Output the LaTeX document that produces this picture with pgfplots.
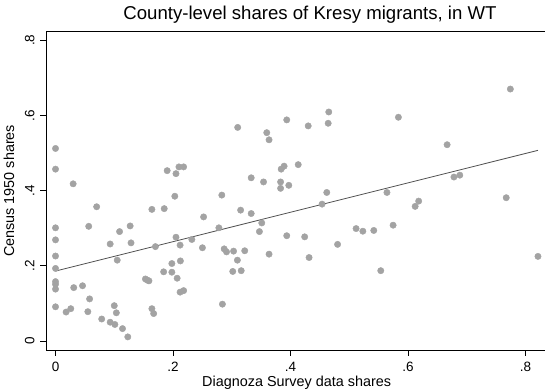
\documentclass[border=0pt]{standalone}
\usepackage{fontspec}
\setmainfont{Liberation Sans}
\usepackage{pgfplots}
\pgfplotsset{compat=1.18}

\definecolor{markgray}{RGB}{163,163,163}
\definecolor{fitgray}{RGB}{80,80,80}

\begin{document}
\begin{tikzpicture}
\begin{axis}[
  at={(0,0)}, anchor=south west,
  scale only axis,
  width=499pt, height=318.8pt,
  xmin=-0.0162, xmax=0.833,
  ymin=-0.0247, ymax=0.823,
  axis x line*=bottom, axis y line*=left,
  axis line style={line width=1pt, -},
  tick align=outside,
  major tick length=5.5pt,
  tick style={black, line width=1pt},
  xtick={0,0.2,0.4,0.6,0.8},
  xticklabels={0,.2,.4,.6,.8},
  ytick={0,0.2,0.4,0.6,0.8},
  yticklabels={0,.2,.4,.6,.8},
  xticklabel style={font=\fontsize{13.5}{16}\selectfont, anchor=base},
  yticklabel style={font=\fontsize{13.5}{16}\selectfont, rotate=90, anchor=base},
  xticklabel shift=15.2pt,
  yticklabel shift=6.2pt,
  title={County-level shares of Kresy migrants, in WT},
  title style={font=\fontsize{18.6}{22}\selectfont,
    at={(axis description cs:0.529,1)}, anchor=base, yshift=6.5pt},
  xlabel={Diagnoza Survey data shares},
  ylabel={Census 1950 shares},
  xlabel style={font=\fontsize{14.4}{17}\selectfont,
    at={(axis description cs:0.5024,0)}, anchor=base, yshift=-35.7pt},
  ylabel style={font=\fontsize{14.4}{17}\selectfont,
    at={(axis description cs:-0.0641,0.5)}, anchor=base, rotate=0},
  clip=false,
]
% county observations
\addplot[only marks, mark=*, mark size=3.2pt,
  mark options={fill=markgray, draw=markgray}] table {
x y
0 0.512
0 0.457
0 0.301
0 0.269
0 0.226
0 0.193
0 0.158
0 0.151
0 0.138
0 0.091
0.030 0.418
0.070 0.357
0.0565 0.305
0.109 0.291
0.127 0.306
0.164 0.350
0.185 0.352
0.190 0.453
0.205 0.445
0.210 0.463
0.218 0.463
0.203 0.385
0.252 0.330
0.093 0.258
0.1285 0.261
0.105 0.215
0.170 0.251
0.205 0.276
0.212 0.255
0.232 0.270
0.250 0.248
0.198 0.206
0.2125 0.213
0.184 0.184
0.198 0.183
0.207 0.167
0.153 0.165
0.156 0.162
0.159 0.160
0.031 0.142
0.046 0.147
0.058 0.112
0.212 0.130
0.218 0.134
0.018 0.077
0.026 0.086
0.055 0.078
0.100 0.094
0.1035 0.075
0.164 0.086
0.167 0.073
0.0786 0.0585
0.093 0.050
0.101 0.044
0.114 0.033
0.123 0.011
0.465 0.609
0.3935 0.588
0.310 0.568
0.430 0.572
0.464 0.579
0.3595 0.554
0.3634 0.535
0.413 0.469
0.384 0.457
0.389 0.465
0.333 0.434
0.354 0.423
0.383 0.423
0.397 0.414
0.383 0.406
0.4616 0.395
0.283 0.388
0.4536 0.364
0.315 0.348
0.333 0.339
0.351 0.314
0.278 0.301
0.5115 0.299
0.523 0.292
0.5416 0.294
0.347 0.291
0.287 0.245
0.291 0.237
0.303 0.239
0.322 0.240
0.3095 0.215
0.3016 0.185
0.316 0.187
0.3634 0.231
0.3935 0.280
0.424 0.277
0.4315 0.222
0.480 0.257
0.284 0.098
0.774 0.670
0.5835 0.595
0.6664 0.522
0.678 0.436
0.688 0.441
0.564 0.395
0.612 0.358
0.618 0.372
0.767 0.381
0.5745 0.308
0.5535 0.187
0.821 0.225
};
% linear fit
\addplot[fitgray, line width=0.8pt] coordinates {(0,0.186) (0.821,0.507)};
% top border of the plot region
\draw[line width=1pt] (rel axis cs:0,1) -- (rel axis cs:1,1);
\end{axis}
\pgfresetboundingbox
\path (-46pt,-38.7pt) rectangle (499pt,350.3pt);
\end{tikzpicture}
\end{document}
